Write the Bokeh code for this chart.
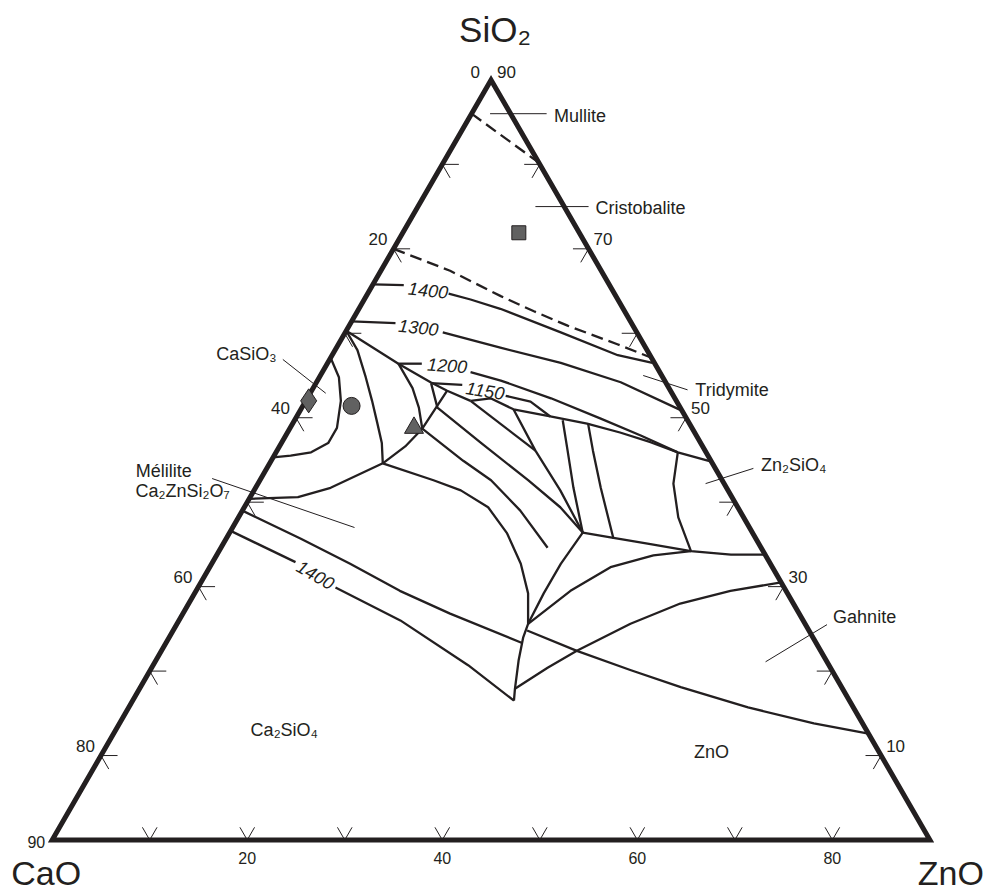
import math
from bokeh.plotting import figure
from bokeh.models import Range1d
from bokeh.embed import file_html
from bokeh.resources import INLINE
from bokeh.core.properties import value

# ---- data: compositions as (ZnO, SiO2) on a 0-90 scale, CaO = 90 - ZnO - SiO2 ----
mullite_limit = [(0, 86.0), (9.8, 80.2)]
cristobalite_tridymite = [(0, 70.0), (7.1, 67.4), (13.8, 64.4), (18.1, 62.6), (22.4, 60.9), (28.6, 58.7), (32.9, 57.1)]

iso1400_up_a = [(0, 65.8), (3.2, 65.7)]
iso1400_up_b = [(8.3, 64.7), (10.9, 64.0), (14.5, 62.9), (22.1, 60.1), (29.3, 57.4), (33.3, 56.5)]
iso1300_a = [(0, 61.4), (4.6, 61.2)]
iso1300_b = [(10.0, 60.1), (16.8, 58.3), (23.9, 56.5), (31.2, 54.2), (39.0, 50.9)]
iso1200_a = [(7.3, 56.4), (10.2, 53.5), (12.0, 51.2), (13.6, 48.7)]
iso1200_tick = [(7.3, 56.4), (9.7, 56.4)]
iso1200_b = [(15.2, 55.4), (18.8, 54.4), (25.0, 52.3), (31.3, 49.9), (36.4, 47.9), (41.2, 45.9)]
iso1150_tick = [(11.8, 54.1), (15.1, 53.9)]
iso1150_b = [(20.2, 52.6), (23.1, 51.9), (26.0, 50.15)]
iso1400_low_a = [(0, 36.6), (8.5, 32.9)]
iso1400_low_b = [(14.1, 29.9), (22.7, 26.0), (32.3, 20.7), (39.1, 16.5)]

casio3_loop = [(0, 57.1), (2.0, 54.8), (3.6, 52.0), (4.8, 48.8), (4.8, 47.0), (3.6, 45.9), (1.7, 45.5), (0, 45.3)]
casio3_split = [(0, 60.3), (2.3, 58.0), (4.75, 54.8), (6.8, 52.0), (8.7, 49.3), (10.3, 47.0), (11.6, 44.6)]
lower_boundary = [(0, 40.4), (4.9, 40.6), (7.7, 41.7), (11.6, 44.6), (12.9, 46.6), (13.6, 48.7), (13.9, 53.2)]
upper_boundary = [(0, 60.3), (7.3, 56.4), (11.7, 54.2), (13.9, 53.2), (16.9, 52.0)]
region_top = [(16.9, 52.0), (18.8, 52.3), (21.8, 51.0), (26.0, 50.15), (30.2, 49.3), (34.1, 48.25),
              (37.8, 47.1), (41.2, 45.9), (45.2, 44.8)]
fan1 = [(11.8, 54.1), (13.9, 51.2), (20.5, 47.0), (27.5, 42.6), (32.4, 39.4), (36.2, 36.4)]
fan2 = [(16.9, 52.0), (26.5, 46.1)]
fan3 = [(21.8, 51.0), (26.5, 46.1), (31.4, 41.4), (36.2, 36.4)]
fan4 = [(27.5, 49.7), (29.8, 46.1), (32.6, 41.7), (36.2, 36.4)]
fan5 = [(30.3, 49.3), (32.4, 46.1), (35.4, 41.7), (39.7, 35.7)]
free_line = [(13.6, 48.7), (19.7, 44.9), (23.7, 42.6), (28.5, 39.0), (33.5, 34.6)]
arc = [(11.6, 44.6), (17.8, 42.6), (21.2, 41.4), (25.0, 39.4), (28.5, 36.3), (31.7, 32.7), (34.2, 29.2),
       (36.0, 25.6), (36.3, 24.0), (37.2, 21.25), (38.5, 17.9), (39.1, 16.5)]
d_to_c = [(36.2, 36.4), (35.8, 32.7), (35.8, 29.2), (36.0, 25.6)]
d_to_edge = [(36.2, 36.4), (39.5, 35.8), (43.5, 35.1), (48.4, 34.2), (52.7, 33.8), (56.2, 33.8)]
c_to_e = [(36.0, 25.6), (38.4, 29.5), (41.1, 32.3), (44.8, 33.7), (48.4, 34.2)]
zn2sio4_left = [(41.2, 45.9), (42.6, 42.2), (45.1, 38.2), (48.4, 34.2)]
gahnite_upper = [(38.5, 17.9), (40.6, 20.4), (42.6, 22.4), (46.5, 25.6), (50.4, 28.0), (54.8, 29.5), (59.5, 30.5)]
zno_gahnite = [(36.3, 24.8), (42.6, 22.4), (49.3, 20.1), (55.4, 18.1), (63.5, 15.7), (71.2, 13.8), (77.4, 12.6)]
melilite_c2s = [(0, 39.0), (7.6, 35.7), (14.2, 32.7), (20.9, 29.5), (27.4, 26.8), (36.6, 23.3)]

iso_labels = ["1400", "1300", "1200", "1150", "1400"]
iso_label_pos = [(6.0, 65.1), (7.2, 60.7), (12.4, 56.2), (17.8, 53.2), (11.3, 31.4)]
iso_label_angle_deg = [-6, -6, -4, -9, -30]

phase_left = ["Mullite", "Cristobalite", "Tridymite", "Zn\u2082SiO\u2084", "Gahnite", "M\u00e9lilite", "Ca\u2082ZnSi\u2082O\u2087"]
phase_left_pos = [(8.6, 85.7), (18.3, 74.8), (39.3, 53.3), (50.5, 44.35), (66.9, 26.35), (-13.3, 43.75), (-12.1, 41.3)]
phase_center = ["ZnO", "Ca\u2082SiO\u2084"]
phase_center_pos = [(62.4, 10.4), (17.3, 13.0)]
phase_right = ["CaSiO\u2083"]
phase_right_pos = [(-5.8, 57.6)]
leaders = [[(1.9, 86.0), (7.7, 86.0)], [(12.05, 75.0), (17.5, 75.0)], [(33.1, 55.0), (38.5, 53.3)],
           [(45.9, 42.2), (49.9, 44.0)], [(62.6, 21.1), (66.7, 25.5)], [(-4.8, 56.9), (1.6, 52.9)],
           [(-5.0, 42.8), (12.5, 37.0)]]

samples_square = [(11.9, 71.9)]
samples_diamond = [(0.3, 52.0)]
samples_circle = [(5.0, 51.4)]
samples_triangle = [(12.7, 48.8)]

edge_ticks = [10, 20, 30, 40, 50, 60, 70, 80]
left_labels = [20, 40, 60, 80]     # CaO
right_labels = [10, 30, 50, 70]    # SiO2
bottom_labels = [20, 40, 60, 80]   # ZnO
FULL = 90

# ---- helpers ----
R3 = math.sqrt(3) / 2


def xy(points):
    return [z + s / 2 for z, s in points], [s * R3 for z, s in points]


INK = "#231f20"
FONT = value("Liberation Sans")

p = figure(width=988, height=892, x_range=Range1d(-5.301, 96.01), y_range=Range1d(-5.384, 86.085),
           output_backend="svg", toolbar_location=None, min_border=0,
           x_axis_type=None, y_axis_type=None)
p.grid.visible = False
p.outline_line_color = None
p.background_fill_color = "white"

# triangle
tx, ty = xy([(0, 0), (FULL, 0), (0, FULL)])
p.patch(tx, ty, fill_color=None, line_color=INK, line_width=5, line_join="miter")

# tick chevrons
txs, tys = [], []
for t in edge_ticks:
    s = FULL - t
    for pts in ([(1.7, s), (0, s), (1.6, s - 1.6)],
                [(FULL - t - 1.6, t), (FULL - t, t), (FULL - t, t - 1.6)],
                [(t - 1.5, 1.5), (t, 0), (t, 1.5)]):
        a, b = xy(pts)
        txs.append(a)
        tys.append(b)
p.multi_line(txs, tys, line_color=INK, line_width=1)

# dashed boundaries
dxs, dys = zip(*[xy(c) for c in [mullite_limit, cristobalite_tridymite]])
p.multi_line(list(dxs), list(dys), line_color=INK, line_width=2.3, line_dash="12 6")

solid = [iso1400_up_a, iso1400_up_b, iso1300_a, iso1300_b, iso1200_a, iso1200_tick, iso1200_b, iso1150_tick,
         iso1150_b, iso1400_low_a, iso1400_low_b, casio3_loop, casio3_split, lower_boundary, upper_boundary,
         region_top, fan1, fan2, fan3, fan4, fan5, free_line, arc, d_to_c, d_to_edge, c_to_e, zn2sio4_left,
         gahnite_upper, zno_gahnite, melilite_c2s]
sxs, sys_ = zip(*[xy(c) for c in solid])
p.multi_line(list(sxs), list(sys_), line_color=INK, line_width=2.3, line_join="round")

lxs, lys = zip(*[xy(c) for c in leaders])
p.multi_line(list(lxs), list(lys), line_color=INK, line_width=1)

# markers
for pts, mk, size in [(samples_square, "square", 14), (samples_diamond, "diamond", 24),
                      (samples_circle, "circle", 17), (samples_triangle, "triangle", 19)]:
    a, b = xy(pts)
    p.scatter(a, b, marker=mk, size=size, fill_color="#616161", line_color=INK, line_width=1)

# isotherm labels
a, b = xy(iso_label_pos)
p.text(a, b, text=iso_labels, angle=[math.radians(d) for d in iso_label_angle_deg],
       text_font=FONT, text_font_size="18px", text_font_style="italic", text_color=INK,
       text_align="center", text_baseline="middle")

# phase labels
a, b = xy(phase_left_pos)
p.text(a, b, text=phase_left, text_font=FONT, text_font_size="18px", text_color=INK,
       text_align="left", text_baseline="middle")
a, b = xy(phase_center_pos)
p.text(a, b, text=phase_center, text_font=FONT, text_font_size="18px", text_color=INK,
       text_align="center", text_baseline="middle")
a, b = xy(phase_right_pos)
p.text(a, b, text=phase_right, text_font=FONT, text_font_size="18px", text_color=INK,
       text_align="right", text_baseline="middle")

# tick labels
a, b = xy([(0, FULL - v) for v in left_labels])
p.text(a, b, text=[str(v) for v in left_labels], x_offset=-6, y_offset=-10, text_font=FONT,
       text_font_size="17px", text_color=INK, text_align="right", text_baseline="middle")
a, b = xy([(FULL - v, v) for v in right_labels])
p.text(a, b, text=[str(v) for v in right_labels], x_offset=5, y_offset=-10, text_font=FONT,
       text_font_size="17px", text_color=INK, text_align="left", text_baseline="middle")
a, b = xy([(v, 0) for v in bottom_labels])
p.text(a, b, text=[str(v) for v in bottom_labels], y_offset=18, text_font=FONT,
       text_font_size="16px", text_color=INK, text_align="center", text_baseline="middle")
a, b = xy([(0, FULL)])
p.text(a, b, text=["0"], x_offset=-11, y_offset=-8, text_font=FONT, text_font_size="17px",
       text_color=INK, text_align="right", text_baseline="middle")
p.text(a, b, text=[str(FULL)], x_offset=6, y_offset=-8, text_font=FONT, text_font_size="17px",
       text_color=INK, text_align="left", text_baseline="middle")
a, b = xy([(0, 0)])
p.text(a, b, text=[str(FULL)], x_offset=-7, y_offset=2, text_font=FONT, text_font_size="16px",
       text_color=INK, text_align="right", text_baseline="middle")

# component titles
a, b = xy([(0, FULL)])
p.text(a, b, text=["SiO\u2082"], x_offset=4, y_offset=-50, text_font=FONT, text_font_size="35px",
       text_color=INK, text_align="center", text_baseline="middle")
a, b = xy([(0, 0)])
p.text(a, b, text=["CaO"], x_offset=-41, y_offset=33, text_font=FONT, text_font_size="34px",
       text_color=INK, text_align="left", text_baseline="middle")
a, b = xy([(FULL, 0)])
p.text(a, b, text=["ZnO"], x_offset=54, y_offset=33, text_font=FONT, text_font_size="34px",
       text_color=INK, text_align="right", text_baseline="middle")

open("out.html", "w").write(file_html(p, INLINE))
